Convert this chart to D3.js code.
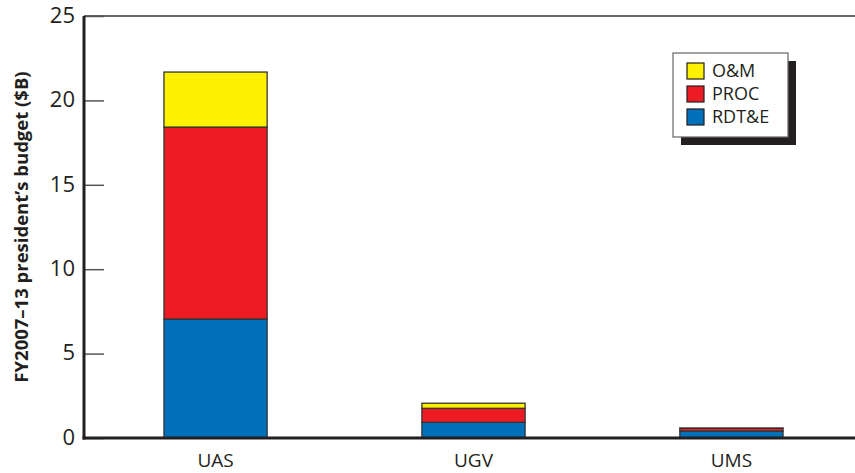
<!DOCTYPE html>
<html>
<head>
<meta charset="utf-8">
<script src="https://cdn.jsdelivr.net/npm/d3@7"></script>
<style>
  body { margin: 0; background: #fff; }
  text { font-family: "Open Sans", "Noto Sans", sans-serif; fill: #231f20; }
</style>
</head>
<body>
<div id="chart"></div>
<script>
var categories = ['UAS', 'UGV', 'UMS'];
var seriesNames = ['RDT&E', 'PROC', 'O&M'];
var rdte = [7.05, 0.93, 0.41];
var proc = [11.37, 0.83, 0.16];
var om = [3.26, 0.30, 0.02];
var yTicks = [0, 5, 10, 15, 20, 25];
var colors = {'RDT&E': '#0070ba', 'PROC': '#ed1c24', 'O&M': '#fff200'};

var width = 855, height = 473;
var margin = {top: 16, left: 84, bottom: 35};

var rows = categories.map(function(c, i) {
	return {cat: c, 'RDT&E': rdte[i], 'PROC': proc[i], 'O&M': om[i]};
});

var svg = d3.select('#chart').append('svg')
	.attr('width', width)
	.attr('height', height);

var x = d3.scaleBand()
	.domain(categories)
	.range([margin.left, 863])
	.paddingInner(0.6)
	.paddingOuter(0.31);

var y = d3.scaleLinear()
	.domain([0, 25])
	.range([height - margin.bottom, margin.top]);

var stack = d3.stack().keys(seriesNames)(rows);

// bars
svg.append('g').selectAll('g')
	.data(stack)
	.enter().append('g')
	.attr('fill', function(d) { return colors[d.key]; })
	.selectAll('rect')
	.data(function(d) { return d; })
	.enter().append('rect')
	.attr('x', function(d) { return x(d.data.cat); })
	.attr('y', function(d) { return y(d[1]); })
	.attr('width', x.bandwidth())
	.attr('height', function(d) { return y(d[0]) - y(d[1]); })
	.attr('stroke', '#333')
	.attr('stroke-width', 1.3);

// top frame line
svg.append('line')
	.attr('x1', margin.left).attr('x2', width)
	.attr('y1', y(25)).attr('y2', y(25))
	.attr('stroke', '#666')
	.attr('stroke-width', 2);

// y axis, ticks inside
var yAxis = svg.append('g')
	.attr('transform', 'translate(' + margin.left + ',0)')
	.call(d3.axisRight(y).tickValues(yTicks).tickSize(20).tickFormat(''));
yAxis.select('.domain').remove();
yAxis.selectAll('.tick line').attr('stroke', '#555').attr('stroke-width', 1.5);

svg.selectAll('.ylabel')
	.data(yTicks)
	.enter().append('text')
	.attr('class', 'ylabel')
	.attr('x', 75)
	.attr('y', function(d) { return y(d) + 1; })
	.attr('text-anchor', 'end')
	.attr('dominant-baseline', 'middle')
	.style('font-size', '22px')
	.text(function(d) { return d; });

// axis lines
svg.append('line')
	.attr('x1', margin.left).attr('x2', margin.left)
	.attr('y1', y(25)).attr('y2', y(0) + 1.5)
	.attr('stroke', '#231f20')
	.attr('stroke-width', 3);
svg.append('line')
	.attr('x1', margin.left - 1.5).attr('x2', width)
	.attr('y1', y(0)).attr('y2', y(0))
	.attr('stroke', '#231f20')
	.attr('stroke-width', 3);

// category labels
svg.selectAll('.xlabel')
	.data(categories)
	.enter().append('text')
	.attr('x', function(d) { return x(d) + x.bandwidth() / 2; })
	.attr('y', 467)
	.attr('text-anchor', 'middle')
	.style('font-size', '19px')
	.text(function(d) { return d; });

// axis title
svg.append('text')
	.attr('transform', 'translate(28,' + (y(12.5)) + ') rotate(-90)')
	.attr('text-anchor', 'middle')
	.style('font-size', '18.5px')
	.style('font-weight', 'bold')
	.text('FY2007\u201313 president\u2019s budget ($B)');

// legend
var lg = svg.append('g').attr('transform', 'translate(673,53)');
lg.append('rect')
	.attr('x', 8).attr('y', 8)
	.attr('width', 115).attr('height', 84)
	.attr('fill', '#231f20');
lg.append('rect')
	.attr('width', 115).attr('height', 84)
	.attr('fill', '#fff')
	.attr('stroke', '#666')
	.attr('stroke-width', 1.2);

var legendItems = seriesNames.slice().reverse();
var li = lg.selectAll('.item')
	.data(legendItems)
	.enter().append('g')
	.attr('transform', function(d, i) { return 'translate(14,' + (10 + i * 23) + ')'; });
li.append('rect')
	.attr('width', 17).attr('height', 16)
	.attr('fill', function(d) { return colors[d]; })
	.attr('stroke', '#231f20')
	.attr('stroke-width', 1.2);
li.append('text')
	.attr('x', 25)
	.attr('y', 9)
	.attr('dominant-baseline', 'middle')
	.style('font-size', '18px')
	.text(function(d) { return d; });
</script>
</body>
</html>
